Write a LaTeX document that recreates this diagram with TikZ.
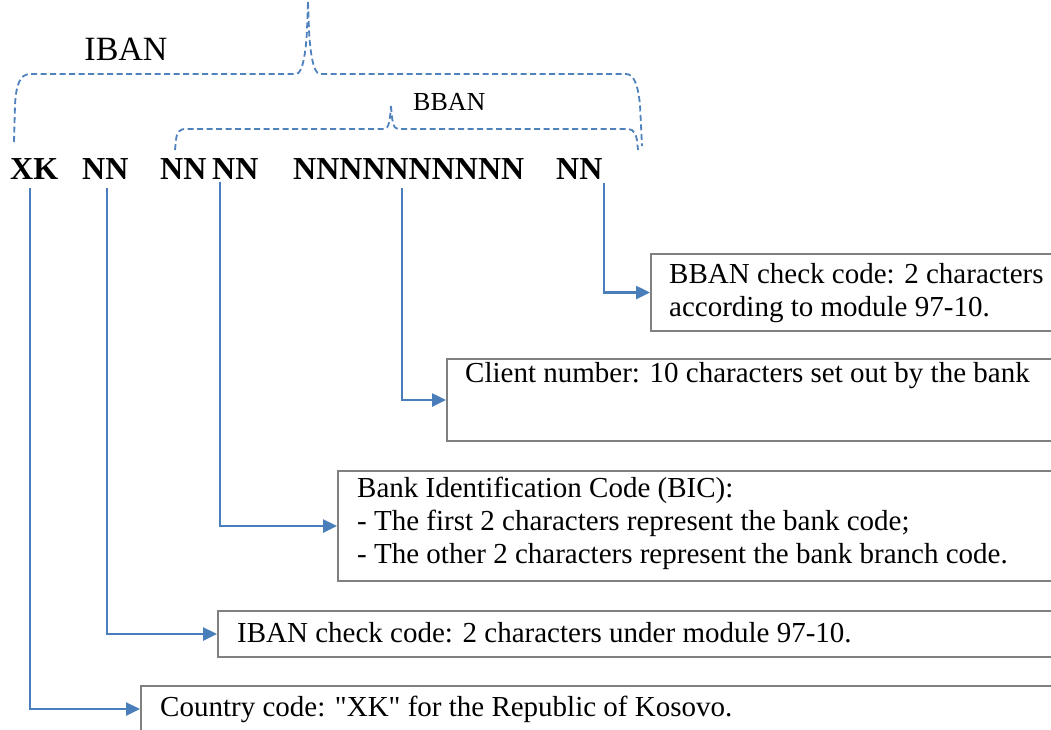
\documentclass[tikz,border=0pt]{standalone}
\usepackage{fontspec}
\setmainfont{Liberation Serif}[Ligatures=TeXOff]
\usetikzlibrary{arrows.meta,calc}
\definecolor{linkblue}{HTML}{4A7EBB}
\definecolor{braceblue}{HTML}{4F81BD}
\definecolor{boxgray}{HTML}{808080}
\begin{document}
\begin{tikzpicture}[x=1pt,y=-1pt,
  conn/.style={draw=linkblue, line width=2.5pt, -{Triangle[length=14pt,width=13pt]}},
  brace/.style={draw=braceblue, line width=1.8pt, dash pattern=on 6pt off 3.5pt},
  infobox/.style={draw=boxgray, line width=2pt, rectangle, inner sep=0pt, anchor=north west},
  txt/.style={font=\fontsize{29}{33}\selectfont, align=left, anchor=north west, inner sep=0pt},
  code/.style={font=\fontsize{32}{36}\selectfont\bfseries, anchor=base west, inner sep=0pt}]
\clip (0,0) rectangle (1051,729);
\fill[white] (0,0) rectangle (1051,729);

% labels
\node[font=\fontsize{34}{38}\selectfont, anchor=base, inner sep=0pt] (ibanlbl) at (126,60) {IBAN};
\node[font=\fontsize{26}{30}\selectfont, anchor=base west, inner sep=0pt] (bbanlbl) at (413,110) {BBAN};

% braces
\draw[brace] (14,142) -- (15,105) .. controls (16,85) and (20,74) .. (30,74) -- (296,74)
  .. controls (303,74) and (306,50) .. (307,30) -- (308,2);
\draw[brace] (308,2) -- (309,30) .. controls (310,50) and (313,74) .. (320,74) -- (626,74)
  .. controls (634,74) and (638,85) .. (640,105) -- (642,146);
\draw[brace] (175,150) -- (176,140) .. controls (177,132) and (179,129) .. (186,129) -- (384,129)
  .. controls (389,129) and (390,120) .. (391,106);
\draw[brace] (391,106) .. controls (392,120) and (393,129) .. (398,129) -- (628,129)
  .. controls (634,129) and (636,135) .. (637,140) -- (638,150);

% code row
\node[code] (xk) at (10,179) {XK};
\node[code] (nnA) at (82,179) {NN};
\node[code] (nnB) at (160,179) {NN};
\node[code] (nnC) at (212,179) {NN};
\node[code] (nnD) at (293,179) {NNNNNNNNNN};
\node[code] (nnE) at (556,179) {NN};

% boxes
\node[infobox, minimum width=420, minimum height=77] (bbanbox) at (650,253) {};
\node[txt] (bbantxt) at (669,263) {BBAN check code: 2 characters\\according to module 97-10.};

\node[infobox, minimum width=620, minimum height=82] (clientbox) at (446,358) {};
\node[txt] (clienttxt) at (465,362) {Client number: 10 characters set out by the bank};

\node[infobox, minimum width=730, minimum height=110] (bicbox) at (337,470) {};
\node[txt] (bictxt) at (357,477) {Bank Identification Code (BIC):\\- The first 2 characters represent the bank code;\\- The other 2 characters represent the bank branch code.};

\node[infobox, minimum width=850, minimum height=46] (ibanbox) at (217,610) {};
\node[txt] (ibantxt) at (237,622) {IBAN check code: 2 characters under module 97-10.};

\node[infobox, minimum width=930, minimum height=46] (countrybox) at (140,685) {};
\node[txt] (countrytxt) at (160,696) {Country code: "XK" for the Republic of Kosovo.};

% connectors
\draw[conn] ($(xk.south west)+(20,9)$) |- (countrybox.west);
\draw[conn] ($(nnA.south west)+(25,9)$) |- (ibanbox.west);
\draw[conn] ($(nnC.south west)+(8,3)$) |- (bicbox.west);
\draw[conn] ($(nnD.south west)+(109,9)$) |- (clientbox.west);
\draw[conn] ($(nnE.south west)+(48,4)$) |- (bbanbox.west);
\end{tikzpicture}
\end{document}
